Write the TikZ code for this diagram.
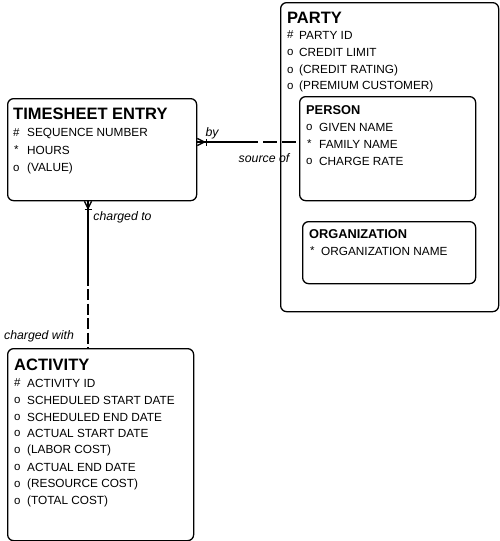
\documentclass[tikz,border=0pt]{standalone}
\usepackage{fontspec}
\setmainfont{Liberation Sans}
\begin{document}
\begin{tikzpicture}[x=1pt,y=-1pt,
  ebox/.style={draw,line width=1.3pt,rounded corners=6pt,anchor=north west,inner sep=0pt},
  etitle/.style={anchor=west,inner sep=0pt,font=\fontsize{16.5}{18}\selectfont\bfseries},
  stitle/.style={anchor=west,inner sep=0pt,font=\fontsize{12.8}{14}\selectfont\bfseries},
  sym/.style={anchor=west,inner sep=0pt,font=\fontsize{11.5}{13}\selectfont},
  attr/.style={anchor=west,inner sep=0pt,font=\fontsize{11.8}{13}\selectfont},
  rel/.style={anchor=center,inner sep=0pt,font=\fontsize{12.3}{14}\selectfont\itshape},
  conn/.style={line width=1.3pt},
  dashA/.style={line width=1.3pt,dash pattern=on 14pt off 5pt},
  dashB/.style={line width=1.3pt,dash pattern=on 11pt off 3.5pt}
]
\useasboundingbox[fill=white] (0,0) rectangle (500,541);

% TIMESHEET ENTRY
\node[ebox,minimum width=189pt,minimum height=102pt] (te) at (7,98) {};
\node[etitle] (teT) at (13,114) {TIMESHEET ENTRY};
\node[sym] (teS1) at (13,133) {\#};  \node[attr] (teA1) at (27,133) {SEQUENCE NUMBER};
\node[sym] (teS2) at (14,150) {*};   \node[attr] (teA2) at (27,150) {HOURS};
\node[sym] (teS3) at (13,168) {o};   \node[attr] (teA3) at (27,168) {(VALUE)};

% PARTY
\node[ebox,minimum width=218pt,minimum height=309pt] (party) at (280,2) {};
\node[etitle] (paT) at (287,18) {PARTY};
\node[sym] (paS1) at (287,35) {\#};  \node[attr] (paA1) at (299,35) {PARTY ID};
\node[sym] (paS2) at (287,52) {o};   \node[attr] (paA2) at (299,52) {CREDIT LIMIT};
\node[sym] (paS3) at (287,70) {o};   \node[attr] (paA3) at (299,70) {(CREDIT RATING)};
\node[sym] (paS4) at (287,86) {o};   \node[attr] (paA4) at (299,86) {(PREMIUM CUSTOMER)};

% PERSON
\node[ebox,minimum width=176pt,minimum height=104pt] (person) at (299,96) {};
\node[stitle] (peT) at (306,110) {PERSON};
\node[sym] (peS1) at (306,127) {o};  \node[attr] (peA1) at (319,127) {GIVEN NAME};
\node[sym] (peS2) at (307,144) {*};  \node[attr] (peA2) at (319,144) {FAMILY NAME};
\node[sym] (peS3) at (306,161) {o};  \node[attr] (peA3) at (319,161) {CHARGE RATE};

% ORGANIZATION
\node[ebox,minimum width=173pt,minimum height=62pt] (org) at (302,221) {};
\node[stitle] (orT) at (309,234) {ORGANIZATION};
\node[sym] (orS1) at (310,251) {*};  \node[attr] (orA1) at (321,251) {ORGANIZATION NAME};

% ACTIVITY
\node[ebox,minimum width=186pt,minimum height=192pt] (act) at (7,348) {};
\node[etitle] (acT) at (14,365) {ACTIVITY};
\node[sym] (acS1) at (14,383) {\#};  \node[attr] (acA1) at (27,383) {ACTIVITY ID};
\node[sym] (acS2) at (14,400) {o};   \node[attr] (acA2) at (27,400) {SCHEDULED START DATE};
\node[sym] (acS3) at (14,417) {o};   \node[attr] (acA3) at (27,417) {SCHEDULED END DATE};
\node[sym] (acS4) at (14,433.5) {o}; \node[attr] (acA4) at (27,433.5) {ACTUAL START DATE};
\node[sym] (acS5) at (14,450.5) {o}; \node[attr] (acA5) at (27,450.5) {(LABOR COST)};
\node[sym] (acS6) at (14,467) {o};   \node[attr] (acA6) at (27,467) {ACTUAL END DATE};
\node[sym] (acS7) at (14,484) {o};   \node[attr] (acA7) at (27,484) {(RESOURCE COST)};
\node[sym] (acS8) at (14,501) {o};   \node[attr] (acA8) at (27,501) {(TOTAL COST)};

% relationship "by" / "source of"
\coordinate (byM) at (258,142);
\coordinate (byD) at (263,142);
\draw[conn] (te.east |- byM) -- (byM);
\draw[dashA] (byD) -- (person.west |- byD);
\draw[conn] ([xshift=7pt]te.east |- byM) -- ([yshift=-3.5pt]te.east |- byM);
\draw[conn] ([xshift=7pt]te.east |- byM) -- ([yshift=3.5pt]te.east |- byM);
\draw[conn] ([xshift=9.5pt,yshift=-3.5pt]te.east |- byM) -- ([xshift=9.5pt,yshift=3.5pt]te.east |- byM);
\node[rel] (byL) at (212,133) {by};
\node[rel] (srcL) at (264,158) {source of};

% relationship "charged to" / "charged with"
\coordinate (chM) at (88,286);
\coordinate (chD) at (88,289);
\draw[conn] (te.south -| chM) -- (chM);
\draw[dashB] (chD) -- (act.north -| chD);
\draw[conn] ([yshift=-7pt]te.south -| chM) -- ([xshift=-3.5pt]te.south -| chM);
\draw[conn] ([yshift=-7pt]te.south -| chM) -- ([xshift=3.5pt]te.south -| chM);
\draw[conn] ([xshift=-3.5pt,yshift=-8.5pt]te.south -| chM) -- ([xshift=3.5pt,yshift=-8.5pt]te.south -| chM);
\node[rel] (ctL) at (122.5,217) {charged to};
\node[rel] (cwL) at (39,336) {charged with};
\end{tikzpicture}
\end{document}
